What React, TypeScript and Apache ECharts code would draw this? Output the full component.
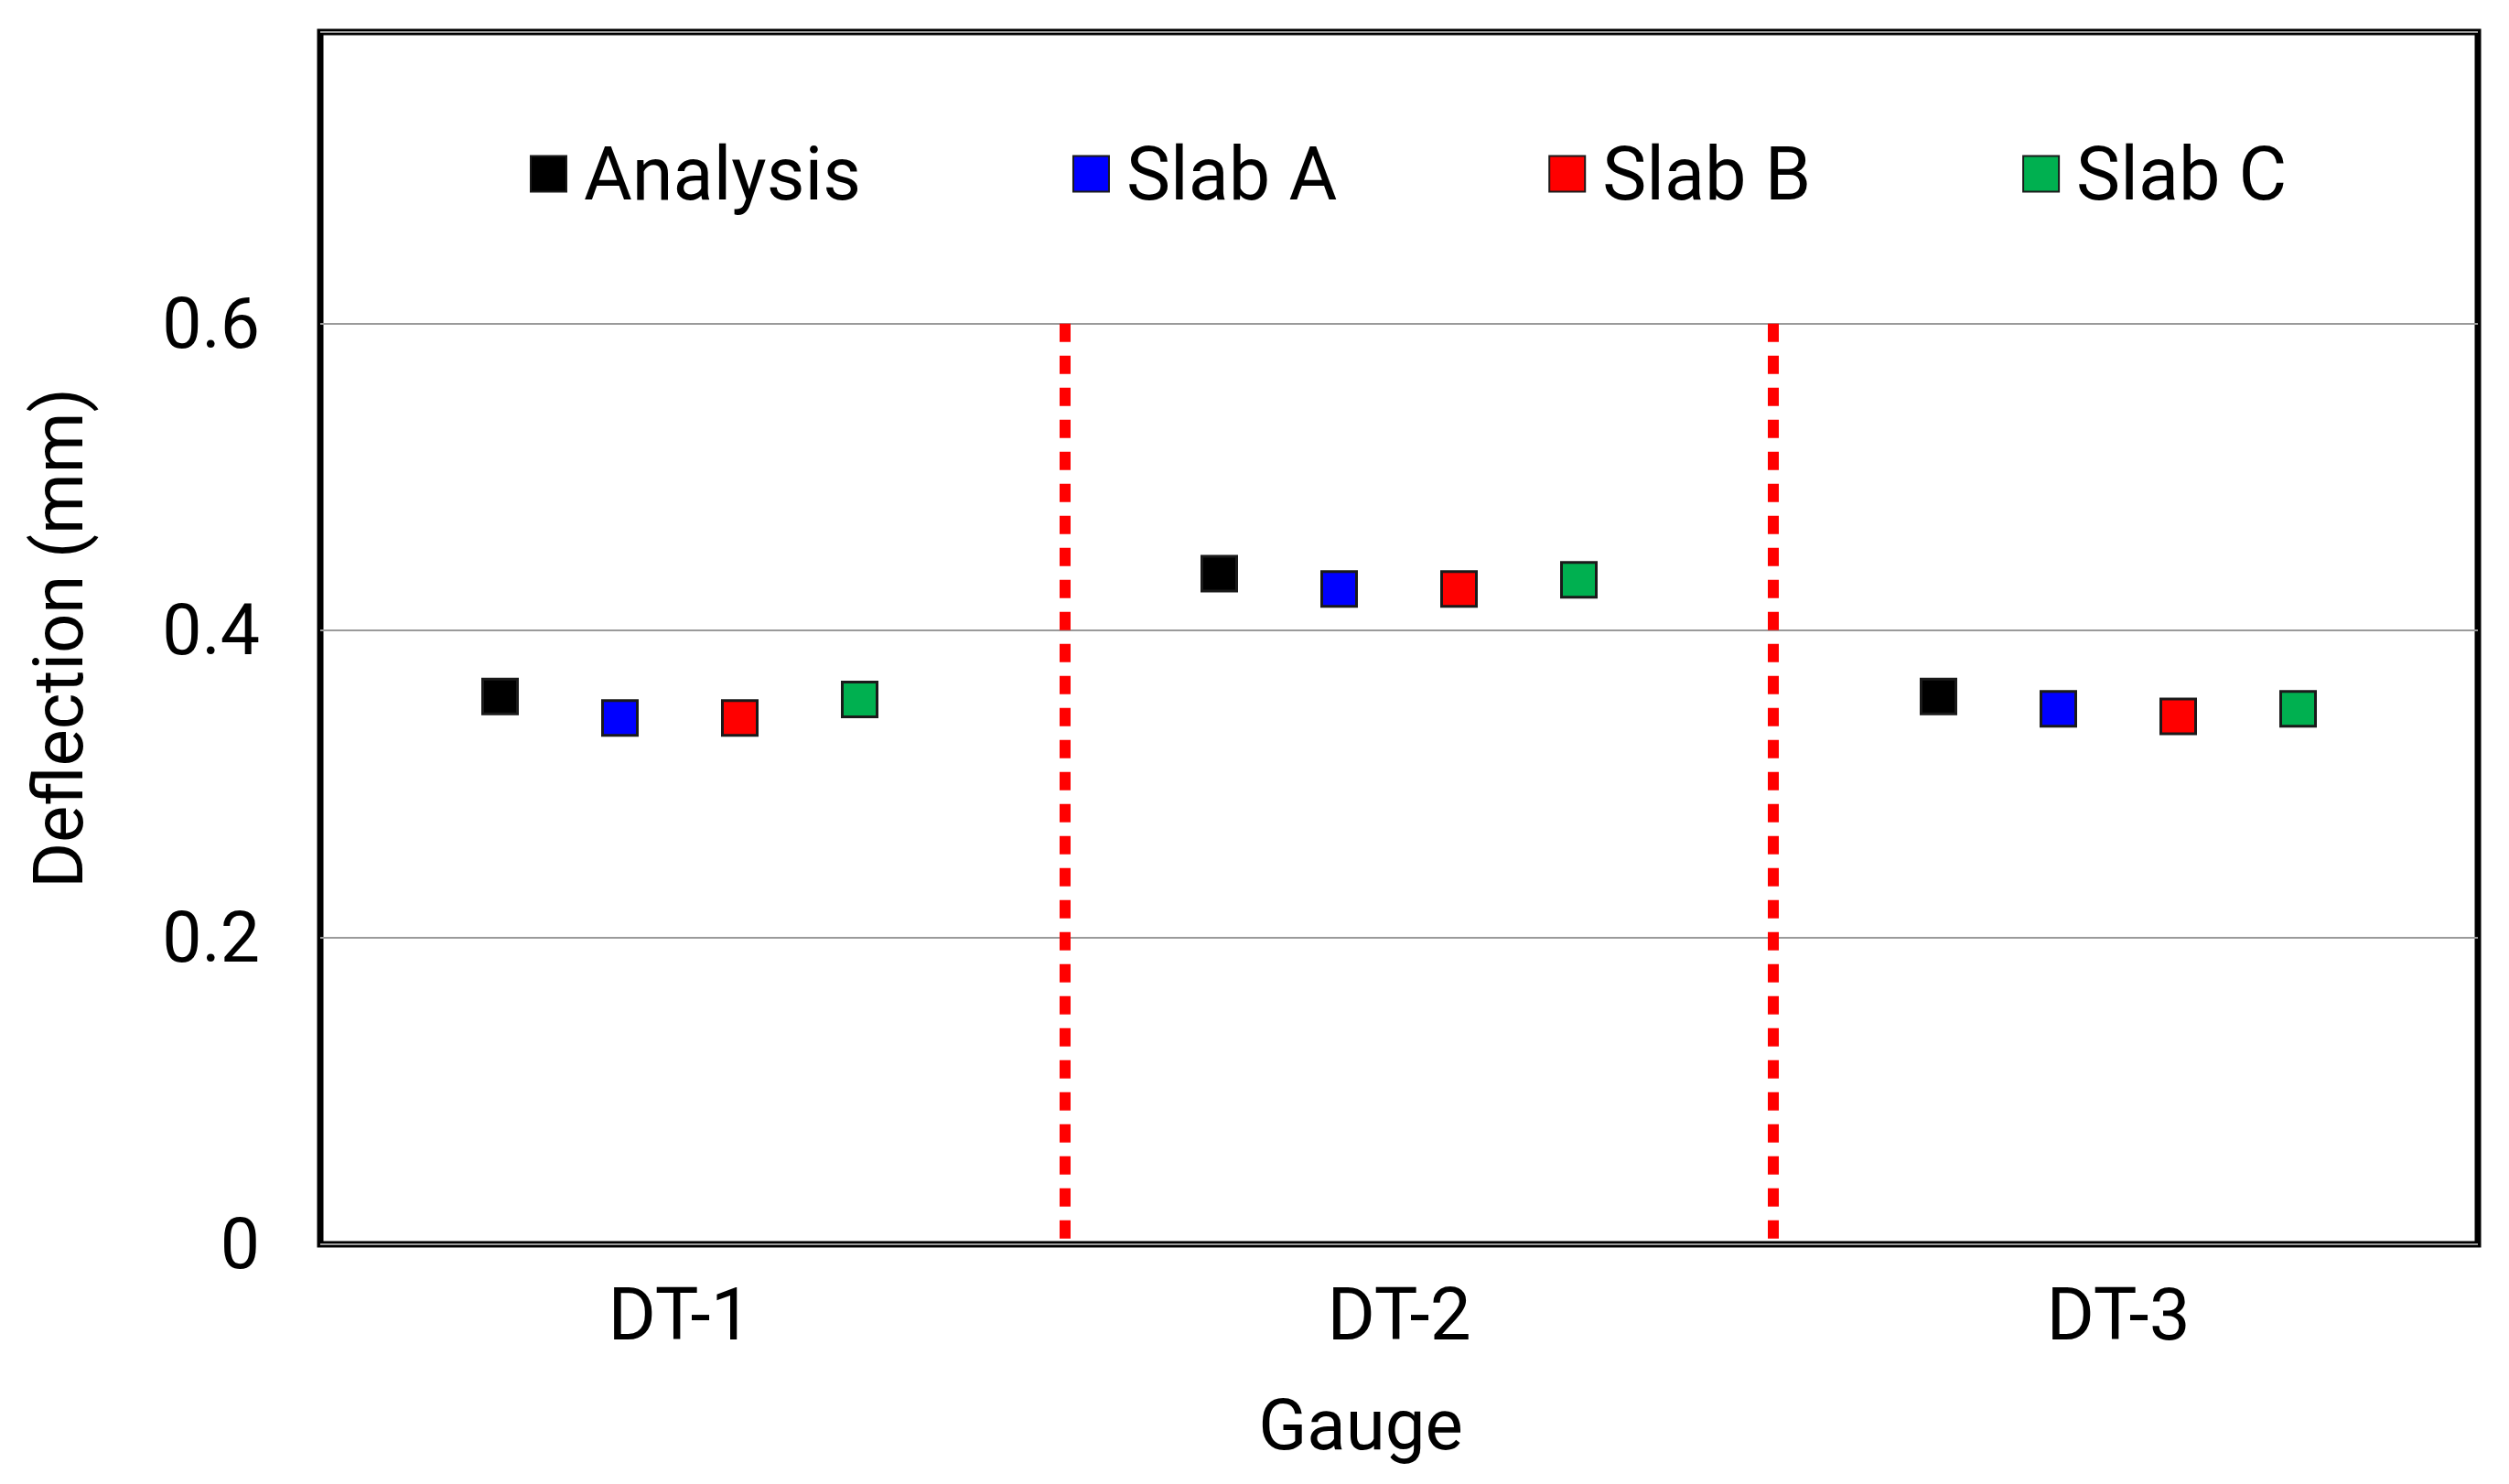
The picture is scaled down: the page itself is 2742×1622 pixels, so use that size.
import React, { useEffect, useRef } from "react";
import * as echarts from "echarts";

const gauges = ["DT-1", "DT-2", "DT-3"];
const seriesNames = ["Analysis", "Slab A", "Slab B", "Slab C"];
const analysis = [0.357, 0.437, 0.357];
const slabA = [0.343, 0.427, 0.349];
const slabB = [0.343, 0.427, 0.344];
const slabC = [0.355, 0.433, 0.349];
const seriesValues = [analysis, slabA, slabB, slabC];
const yTicks = [0, 0.2, 0.4, 0.6];
const separators = [0.535, 1.52];
const separatorTop = 0.6;

const colors = ["#000000", "#0000FF", "#FF0000", "#00B050"];
const groupOffsets = [-0.25, -1 / 12, 1 / 12, 0.25];
const FONT = "Roboto";

export default function App() {
  const ref = useRef<HTMLDivElement>(null);
  useEffect(() => {
    document.body.style.margin = "0";
    document.body.style.overflow = "hidden";
    if (!ref.current) return;
    const chart = echarts.init(ref.current, undefined, { renderer: "svg" });
    const series: any[] = seriesNames.map((name, i) => ({
      name,
      type: "scatter",
      xAxisIndex: 1,
      yAxisIndex: 0,
      symbol: "rect",
      symbolSize: 38,
      itemStyle: { color: colors[i], borderColor: "#1a1a1a", borderWidth: 3, opacity: 1 },
      z: 5,
      data: seriesValues[i].map((v, g) => [g + groupOffsets[i], v]),
    }));
    series[0].markLine = {
      silent: true,
      symbol: "none",
      label: { show: false },
      lineStyle: { color: "#FF0000", width: 12, type: [20, 15], opacity: 1 },
      data: separators.map((x) => [
        { coord: [x, separatorTop] },
        { coord: [x, 0] },
      ]),
      z: 3,
    };
    chart.setOption({
      animation: false,
      backgroundColor: "#ffffff",
      grid: {
        left: 350,
        right: 34,
        top: 35,
        bottom: 262,
        show: true,
        borderColor: "#000",
        borderWidth: 7,
      },
      legend: {
        data: seriesNames,
        left: 579,
        top: 149,
        padding: 0,
        icon: "rect",
        itemWidth: 39,
        itemHeight: 39,
        itemGap: 231,
        textStyle: {
          fontSize: 81,
          lineHeight: 82,
          fontFamily: FONT,
          color: "#000",
          padding: [0, 0, 0, 14],
        },
      },
      xAxis: [
        {
          type: "category",
          data: gauges,
          boundaryGap: true,
          axisLine: { show: false },
          axisTick: { show: false },
          splitLine: { show: false },
          axisLabel: { margin: 37, fontSize: 80, fontFamily: FONT, color: "#000" },
        },
        { type: "value", min: -0.5, max: 2.5, show: false },
      ],
      yAxis: {
        type: "value",
        min: 0,
        max: 0.79,
        interval: 0.2,
        axisLine: { show: false },
        axisTick: { show: false },
        splitLine: { lineStyle: { color: "#9a9a9a", width: 2 } },
        axisLabel: {
          margin: 66,
          fontSize: 77,
          fontFamily: FONT,
          color: "#000",
          formatter: (v: number) => {
            const t = yTicks.find((k) => Math.abs(k - v) < 1e-6);
            return t === undefined ? "" : String(t);
          },
        },
        name: "Deflection (mm)",
        nameLocation: "middle",
        nameGap: 248,
        nameTextStyle: { fontSize: 76, fontFamily: FONT, color: "#000" },
      },
      graphic: [
        {
          type: "text",
          x: 1487,
          y: 1557,
          style: {
            text: "Gauge",
            fontSize: 78,
            fontFamily: FONT,
            fill: "#000",
            align: "center",
            verticalAlign: "middle",
          },
        },
      ],
      series,
    });
    return () => chart.dispose();
  }, []);
  return <div ref={ref} style={{ width: 2742, height: 1622 }} />;
}
